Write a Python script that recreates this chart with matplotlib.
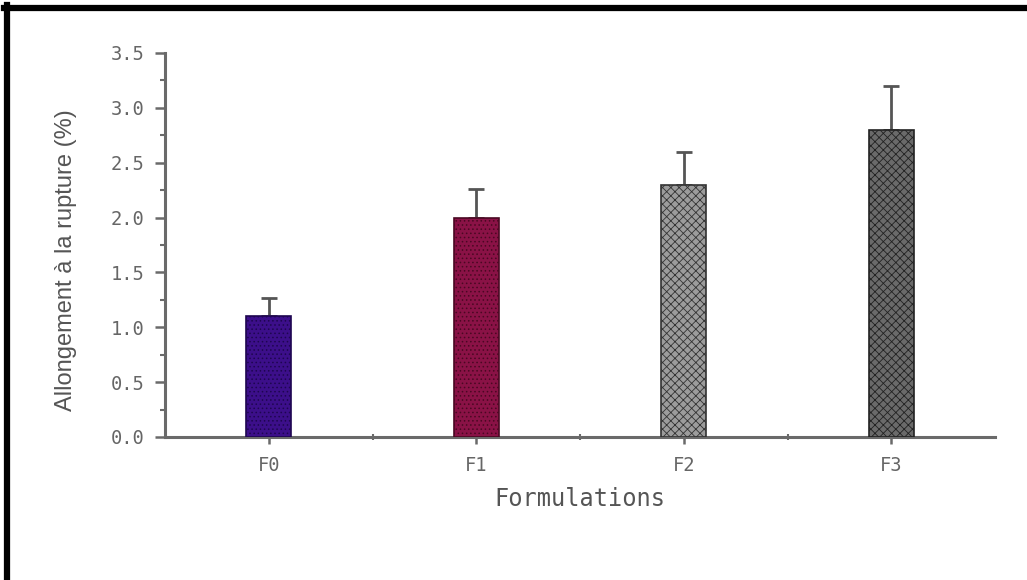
import matplotlib
matplotlib.use("Agg")
import matplotlib.pyplot as plt
from matplotlib.lines import Line2D
from matplotlib.ticker import MultipleLocator, FixedLocator

categories = ["F0", "F1", "F2", "F3"]
elongation = [1.1, 2.0, 2.3, 2.8]
errors = [0.17, 0.26, 0.30, 0.40]
y_ticks = [0.0, 0.5, 1.0, 1.5, 2.0, 2.5, 3.0, 3.5]

face_colors = ["#3c0f8a", "#8a1246", "#9c9c9c", "#6a6a6a"]
edge_colors = ["#1e0650", "#4a0822", "#333333", "#222222"]
hatches = ["....", "....", "xxxx", "xxxx"]

plt.rcParams["hatch.linewidth"] = 0.6

fig = plt.figure(figsize=(10.27, 5.80), dpi=100)
ax = fig.add_axes([165 / 1027, 1 - 437 / 580, (995 - 165) / 1027, (437 - 53) / 580])

x = list(range(len(categories)))
for i in x:
    ax.bar(i, elongation[i], width=0.215, color=face_colors[i],
           edgecolor=edge_colors[i], hatch=hatches[i], linewidth=1.2, zorder=3)
# upper error bars only; the lower cap is hidden behind the bar
ax.errorbar(x, elongation, yerr=[[0] * len(errors), errors], fmt="none",
            ecolor="#555555", elinewidth=2, capsize=5.5, capthick=2, zorder=2)

ax.set_xlim(-0.5, 3.5)
ax.set_ylim(0, 3.5)
ax.set_xticks(x)
ax.set_xticklabels(categories)
ax.xaxis.set_minor_locator(FixedLocator([0.5, 1.5, 2.5]))
ax.set_yticks(y_ticks)
ax.set_yticklabels([f"{v:.1f}" for v in y_ticks])
ax.yaxis.set_minor_locator(MultipleLocator(0.25))

for side in ["top", "right"]:
    ax.spines[side].set_visible(False)
for side in ["left", "bottom"]:
    ax.spines[side].set_color("#6a6a6a")
    ax.spines[side].set_linewidth(2.2)

ax.tick_params(axis="both", which="major", direction="out", length=7,
               width=1.8, color="#6a6a6a", labelcolor="#666666",
               labelsize=13.5)
ax.tick_params(axis="y", which="major", pad=8)
ax.tick_params(axis="x", which="major", length=5, pad=9)
ax.tick_params(axis="y", which="minor", direction="out", length=3.6,
               width=1.5, color="#6a6a6a")
ax.tick_params(axis="x", which="minor", direction="inout", length=4,
               width=1.5, color="#6a6a6a")

ax.set_ylabel("Allongement à la rupture (%)", fontsize=17, color="#555555",
              family=["Liberation Sans", "DejaVu Sans"])
ax.yaxis.set_label_coords(-88 / 830, 0.46)
ax.set_xlabel("Formulations", fontsize=17, color="#555555",
              family=["DejaVu Sans Mono", "DejaVu Sans"])
ax.xaxis.set_label_coords(0.5, -50 / 384)

for lbl in ax.get_xticklabels() + ax.get_yticklabels():
    lbl.set_family(["DejaVu Sans Mono", "DejaVu Sans"])

# frame lines along the top and left edges of the figure
fig.add_artist(Line2D([4 / 1027, 1.0], [1 - 7.5 / 580, 1 - 7.5 / 580],
                      transform=fig.transFigure, color="black", linewidth=4.5))
fig.add_artist(Line2D([7 / 1027, 7 / 1027], [0.0, 1 - 5 / 580],
                      transform=fig.transFigure, color="black", linewidth=4.5))

fig.savefig("out.png", dpi=100, facecolor="white")
